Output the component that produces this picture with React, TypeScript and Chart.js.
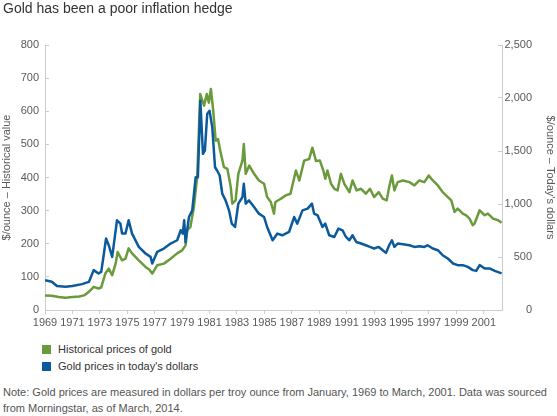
import React, { useEffect, useRef } from "react";
import { Chart, registerables } from "chart.js";

Chart.register(...registerables);

const chartTitle = "Gold has been a poor inflation hedge";
const leftAxisTitle = "$/ounce – Historical value";
const rightAxisTitle = "$/ounce – Today's dollars";
const seriesNames = ["Historical prices of gold", "Gold prices in today's dollars"];
const noteLines = [
  "Note: Gold prices are measured in dollars per troy ounce from January, 1969 to March, 2001. Data was sourced",
  "from Morningstar, as of March, 2014.",
];

const xTickYears = [1969, 1971, 1973, 1975, 1977, 1979, 1981, 1983, 1985, 1987, 1989, 1991, 1993, 1995, 1997, 1999, 2001];

// Historical price ($/oz), left axis
const greenYears = [
  1969.0, 1969.5, 1970.0, 1970.5, 1971.0, 1971.5, 1971.9, 1972.2, 1972.55, 1972.9,
  1973.1, 1973.4, 1973.65, 1973.9, 1974.15, 1974.3, 1974.62, 1974.87, 1975.1, 1975.35,
  1975.84, 1976.33, 1976.6, 1976.82, 1977.18, 1977.67, 1978.16, 1978.64, 1979.0, 1979.25,
  1979.37, 1979.6, 1979.86, 1980.1, 1980.32, 1980.6, 1980.8, 1980.95, 1981.1, 1981.27,
  1981.45, 1981.62, 1981.78, 1982.05, 1982.3, 1982.55, 1982.66, 1982.9, 1983.1, 1983.4,
  1983.5, 1983.64, 1983.9, 1984.25, 1984.6, 1984.98, 1985.2, 1985.47, 1985.7, 1985.8,
  1986.2, 1986.56, 1986.9, 1987.3, 1987.55, 1987.9, 1988.27, 1988.5, 1988.76, 1989.05,
  1989.3, 1989.44, 1989.6, 1989.86, 1990.1, 1990.34, 1990.58, 1990.83, 1991.2, 1991.43,
  1991.73, 1992.05, 1992.4, 1992.7, 1993.0, 1993.34, 1993.63, 1993.92, 1994.1, 1994.3,
  1994.48, 1994.72, 1995.1, 1995.58, 1995.94, 1996.3, 1996.67, 1996.99, 1997.28, 1997.65,
  1998.0, 1998.38, 1998.63, 1998.87, 1999.1, 1999.47, 1999.72, 1999.96, 2000.2, 2000.33,
  2000.7, 2001.07, 2001.3, 2001.68, 2002.05, 2002.3,
];
const greenValues = [
  44, 43, 39, 37, 39, 41, 45, 55, 70, 65,
  68, 110, 125, 105, 140, 175, 150, 155, 186, 171,
  150, 130, 122, 110, 135, 140, 155, 171, 180, 195,
  241, 250, 311, 401, 652, 617, 652, 626, 667, 601,
  511, 516, 481, 431, 426, 371, 321, 331, 411, 451,
  501, 411, 436, 411, 391, 381, 341, 326, 291, 326,
  336, 346, 351, 421, 391, 451, 456, 490, 450, 451,
  421, 396, 421, 381, 366, 361, 411, 381, 356, 391,
  361, 366, 351, 366, 341, 356, 336, 331, 371, 406,
  361, 386, 391, 386, 376, 391, 386, 406, 391, 376,
  356, 341, 331, 296, 306, 291, 286, 276, 256, 261,
  301, 286, 291, 276, 271, 263,
];

// Price in today's dollars ($/oz), right axis
const blueYears = [
  1969.0, 1969.5, 1969.87, 1970.5, 1971.0, 1971.7, 1972.2, 1972.55, 1972.9, 1973.1,
  1973.28, 1973.45, 1973.65, 1973.9, 1974.25, 1974.5, 1974.62, 1974.87, 1975.1, 1975.35,
  1975.84, 1976.33, 1976.7, 1976.82, 1977.18, 1977.67, 1978.16, 1978.64, 1978.9, 1979.05,
  1979.15, 1979.25, 1979.5, 1979.74, 1979.99, 1980.15, 1980.33, 1980.52, 1980.66, 1980.83,
  1981.0, 1981.2, 1981.4, 1981.55, 1981.74, 1981.93, 1982.17, 1982.42, 1982.62, 1982.86,
  1983.1, 1983.4, 1983.5, 1983.64, 1983.88, 1984.25, 1984.6, 1984.98, 1985.2, 1985.6,
  1985.95, 1986.3, 1986.8, 1987.17, 1987.4, 1987.78, 1988.15, 1988.47, 1988.63, 1988.88,
  1989.24, 1989.44, 1989.73, 1990.1, 1990.4, 1990.7, 1990.95, 1991.2, 1991.43, 1991.7,
  1992.05, 1992.4, 1992.7, 1993.0, 1993.34, 1993.63, 1993.87, 1994.1, 1994.3, 1994.48,
  1994.72, 1995.1, 1995.58, 1995.94, 1996.3, 1996.67, 1996.9, 1997.28, 1997.65, 1998.0,
  1998.38, 1998.75, 1999.1, 1999.47, 1999.84, 2000.2, 2000.45, 2000.7, 2001.07, 2001.43,
  2001.8, 2002.3,
];
const blueValues = [
  282, 266, 226, 219, 226, 244, 265, 376, 345, 360,
  517, 674, 611, 501, 846, 815, 721, 721, 846, 721,
  595, 533, 501, 439, 548, 580, 627, 658, 752, 721,
  846, 640, 877, 940, 1253, 1253, 1974, 1473, 1504, 1849,
  1880, 1723, 1347, 1316, 1269, 1097, 1034, 940, 815, 783,
  1003, 1065, 1191, 1003, 1034, 971, 909, 877, 783, 658,
  721, 705, 736, 877, 815, 940, 956, 1003, 909, 893,
  783, 815, 705, 689, 768, 752, 689, 658, 705, 642,
  627, 611, 595, 580, 595, 564, 539, 611, 658, 595,
  627, 620, 611, 595, 601, 595, 611, 580, 564, 517,
  486, 439, 423, 423, 407, 376, 369, 423, 392, 392,
  369, 345,
];

const GREEN = "#6b9a3c";
const BLUE = "#0b5a9c";
const AXIS = "#cccccc";
const TICK_TEXT = "#595959";
const FONT = "'Liberation Sans', Arial, Helvetica, sans-serif";

export default function App() {
  const canvasRef = useRef<HTMLCanvasElement>(null);

  useEffect(() => {
    const canvas = canvasRef.current;
    if (!canvas) return;
    Chart.defaults.font.family = FONT;
    const chart = new Chart(canvas, {
      type: "line",
      data: {
        datasets: [
          {
            label: seriesNames[0],
            data: greenYears.map((x, i) => ({ x, y: greenValues[i] })),
            borderColor: GREEN,
            backgroundColor: GREEN,
            yAxisID: "y",
            order: 1,
          },
          {
            label: seriesNames[1],
            data: blueYears.map((x, i) => ({ x, y: blueValues[i] })),
            borderColor: BLUE,
            backgroundColor: BLUE,
            yAxisID: "y1",
            order: 0,
          },
        ],
      },
      options: {
        responsive: false,
        animation: false,
        layout: { padding: { top: 45, bottom: 4, left: 0, right: 0 } },
        elements: {
          point: { radius: 0, hoverRadius: 0 },
          line: { borderWidth: 2.5, tension: 0, borderJoinStyle: "round" },
        },
        plugins: {
          legend: { display: false },
          tooltip: { enabled: false },
        },
        scales: {
          x: {
            type: "linear",
            min: 1969,
            max: 2002.33,
            afterBuildTicks: (s: any) => {
              s.ticks = xTickYears.map((v) => ({ value: v }));
            },
            afterFit: (s: any) => {
              s.height = 26;
            },
            grid: {
              display: true,
              drawOnChartArea: false,
              drawTicks: true,
              tickLength: 4,
              color: AXIS,
              tickColor: AXIS,
            },
            border: { display: true, color: AXIS, width: 1 },
            ticks: {
              autoSkip: false,
              maxRotation: 0,
              minRotation: 0,
              padding: 2,
              color: TICK_TEXT,
              font: { size: 11 },
              callback: (v: any) => String(v),
            },
          },
          y: {
            type: "linear",
            position: "left",
            min: 0,
            max: 800,
            weight: 1,
            afterFit: (s: any) => {
              s.width = 45;
            },
            grid: {
              display: true,
              drawOnChartArea: false,
              drawTicks: true,
              tickLength: -4,
              color: AXIS,
              tickColor: AXIS,
            },
            border: { display: true, color: AXIS, width: 1 },
            ticks: {
              stepSize: 100,
              padding: 10,
              color: TICK_TEXT,
              font: { size: 11 },
              callback: (v: any) => String(v),
            },
            title: {
              display: true,
              text: leftAxisTitle,
              color: TICK_TEXT,
              font: { size: 11 },
              padding: 0,
            },
          },
          y1: {
            type: "linear",
            position: "right",
            min: 0,
            max: 2500,
            weight: 1,
            afterFit: (s: any) => {
              s.width = 30;
            },
            grid: {
              display: true,
              drawOnChartArea: false,
              drawTicks: true,
              tickLength: -4,
              color: AXIS,
              tickColor: AXIS,
            },
            border: { display: true, color: AXIS, width: 1 },
            ticks: {
              stepSize: 500,
              crossAlign: "far",
              color: TICK_TEXT,
              font: { size: 11 },
              callback: (v: any) => Number(v).toLocaleString("en-US"),
            },
          },
          yTitle: {
            type: "linear",
            position: "right",
            weight: 2,
            afterFit: (s: any) => {
              s.width = 25;
            },
            grid: { display: false },
            border: { display: false },
            ticks: { display: false },
            title: {
              display: true,
              text: rightAxisTitle,
              color: TICK_TEXT,
              font: { size: 11 },
              padding: 0,
            },
          },
        },
      } as any,
    });
    return () => chart.destroy();
  }, []);

  return (
    <div
      style={{
        position: "absolute",
        left: 0,
        top: 0,
        width: 557,
        height: 416,
        background: "#ffffff",
        fontFamily: FONT,
        overflow: "hidden",
      }}
    >
      <canvas
        ref={canvasRef}
        width={557}
        height={340}
        style={{ position: "absolute", left: 0, top: 0, width: 557, height: 340 }}
      />
      <div
        style={{
          position: "absolute",
          left: 3,
          top: 0,
          fontSize: 14,
          color: "#333333",
          whiteSpace: "nowrap",
        }}
      >
        {chartTitle}
      </div>
      {seriesNames.map((name, i) => (
        <div
          key={name}
          style={{
            position: "absolute",
            left: 42,
            top: 341 + i * 17,
            height: 16,
            display: "flex",
            alignItems: "center",
            fontSize: 11,
            color: "#333333",
            whiteSpace: "nowrap",
          }}
        >
          <span
            style={{
              display: "inline-block",
              width: 9,
              height: 9,
              background: i === 0 ? GREEN : BLUE,
              marginRight: 7,
            }}
          />
          {name}
        </div>
      ))}
      <div
        style={{
          position: "absolute",
          left: 3,
          top: 384,
          fontSize: 11,
          lineHeight: "16px",
          color: "#555555",
          whiteSpace: "nowrap",
        }}
      >
        {noteLines[0]}
        <br />
        {noteLines[1]}
      </div>
    </div>
  );
}
